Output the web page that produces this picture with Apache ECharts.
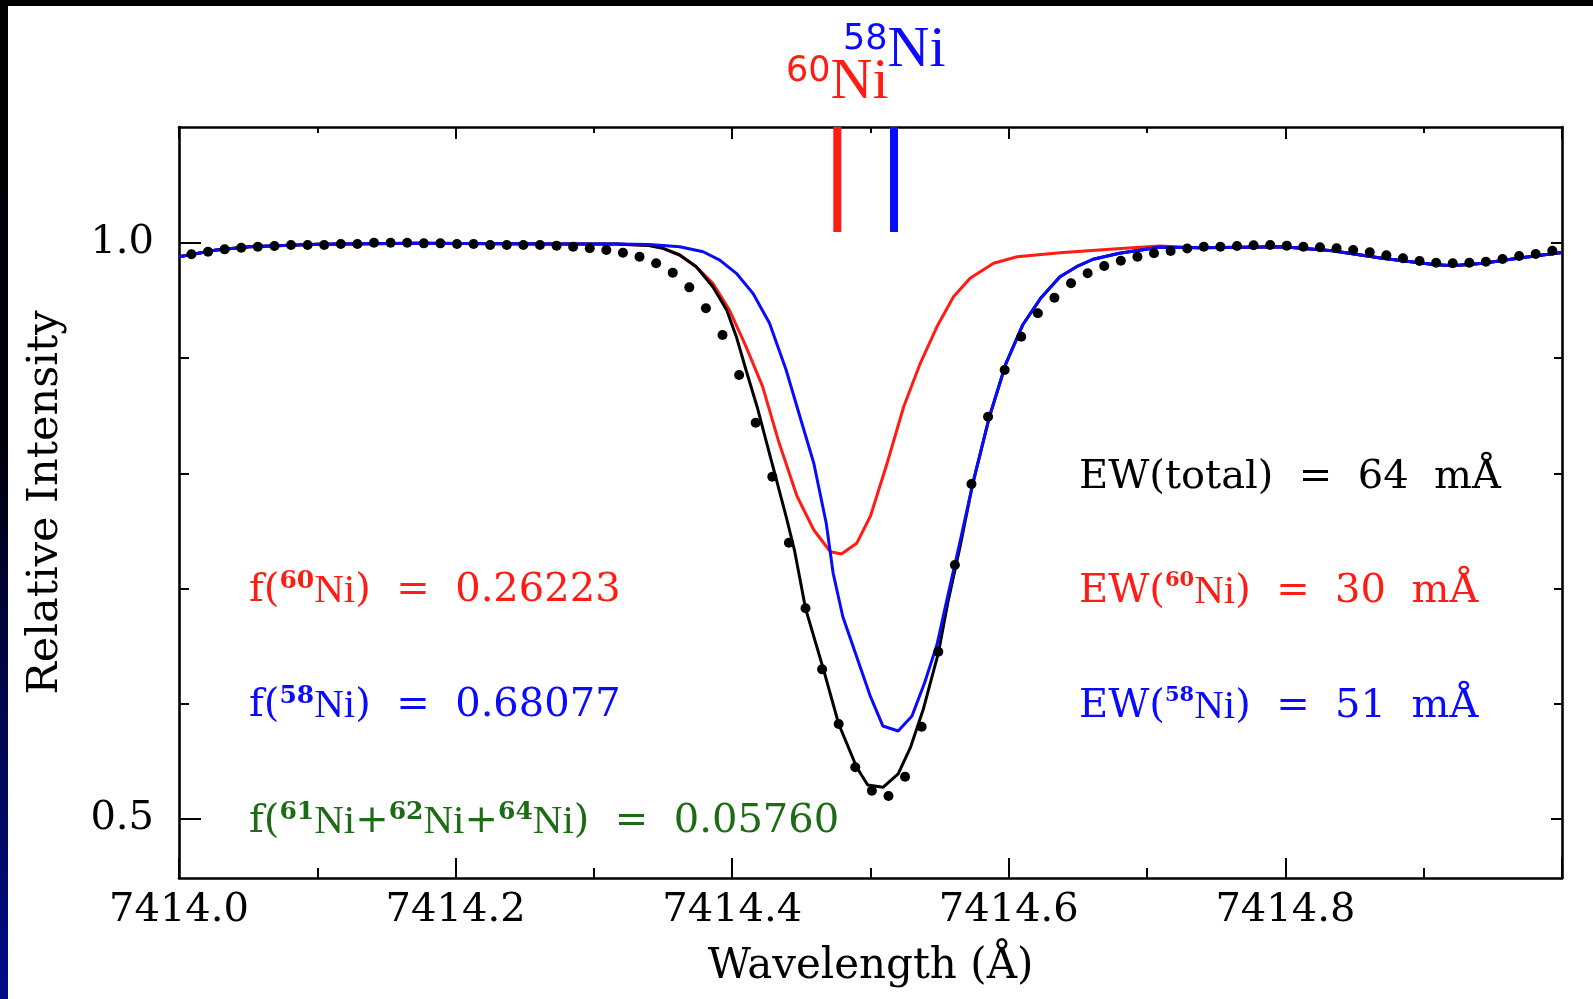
<!DOCTYPE html>
<html>
<head>
<meta charset="utf-8">
<script src="https://cdn.jsdelivr.net/npm/echarts@6/dist/echarts.min.js"></script>
<style>
  html, body { margin: 0; padding: 0; background: #ffffff; }
  #chart { width: 1593px; height: 999px; }
</style>
</head>
<body>
<div id="chart"></div>
<script>
// Observed spectrum: wavelength (Å) and relative intensity
const obsWave = [
  7414.009, 7414.021, 7414.033, 7414.045, 7414.057, 7414.069, 7414.081, 7414.093, 7414.105, 7414.117,
  7414.129, 7414.141, 7414.153, 7414.165, 7414.177, 7414.189, 7414.201, 7414.213, 7414.225, 7414.237,
  7414.249, 7414.261, 7414.273, 7414.285, 7414.297, 7414.309, 7414.321, 7414.333, 7414.345, 7414.357,
  7414.369, 7414.381, 7414.393, 7414.405, 7414.417, 7414.429, 7414.441, 7414.453, 7414.465, 7414.477,
  7414.489, 7414.501, 7414.513, 7414.525, 7414.537, 7414.549, 7414.561, 7414.573, 7414.585, 7414.597,
  7414.609, 7414.621, 7414.633, 7414.645, 7414.657, 7414.669, 7414.681, 7414.693, 7414.705, 7414.717,
  7414.729, 7414.741, 7414.753, 7414.765, 7414.777, 7414.789, 7414.801, 7414.813, 7414.825, 7414.837,
  7414.849, 7414.861, 7414.873, 7414.885, 7414.897, 7414.909, 7414.921, 7414.933, 7414.945, 7414.957,
  7414.969, 7414.981, 7414.993
];
const obsFlux = [
  0.9902, 0.9924, 0.9945, 0.9959, 0.9968, 0.9974, 0.9983, 0.9983, 0.9983, 0.9991,
  0.9991, 1.0003, 1.0003, 1.0003, 0.9997, 0.9997, 0.9991, 0.9991, 0.9983, 0.9983,
  0.9983, 0.9983, 0.9977, 0.9968, 0.9954, 0.9939, 0.9916, 0.9881, 0.9824, 0.9742,
  0.9615, 0.9433, 0.9201, 0.8854, 0.8440, 0.7971, 0.7398, 0.6829, 0.6299, 0.5825,
  0.5449, 0.5246, 0.5200, 0.5367, 0.5801, 0.6452, 0.7205, 0.7908, 0.8492, 0.8898,
  0.9187, 0.9390, 0.9525, 0.9650, 0.9737, 0.9800, 0.9846, 0.9881, 0.9911, 0.9931,
  0.9952, 0.9968, 0.9968, 0.9974, 0.9980, 0.9983, 0.9977, 0.9968, 0.9963, 0.9954,
  0.9939, 0.9919, 0.9893, 0.9867, 0.9844, 0.9829, 0.9824, 0.9829, 0.9838, 0.9861,
  0.9887, 0.9905, 0.9933
];

// Synthetic spectra [wavelength, intensity]
const synthTotal = [
  [7414.000, 0.9881], [7414.027, 0.9939], [7414.051, 0.9968], [7414.100, 0.9989], [7414.172, 0.9997],
  [7414.268, 0.9991], [7414.316, 0.9991], [7414.340, 0.9978], [7414.350, 0.9954], [7414.362, 0.9896],
  [7414.374, 0.9794], [7414.386, 0.9621], [7414.396, 0.9418], [7414.403, 0.9187], [7414.410, 0.8898],
  [7414.418, 0.8579], [7414.425, 0.8261], [7414.432, 0.7943], [7414.439, 0.7624], [7414.445, 0.7335],
  [7414.453, 0.6829], [7414.466, 0.6299], [7414.477, 0.5825], [7414.490, 0.5449], [7414.498, 0.5295],
  [7414.509, 0.5275], [7414.520, 0.5391], [7414.529, 0.5625], [7414.538, 0.5946], [7414.549, 0.6438],
  [7414.556, 0.6884], [7414.565, 0.7378], [7414.574, 0.7914], [7414.586, 0.8492], [7414.598, 0.8956],
  [7414.610, 0.9288], [7414.623, 0.9520], [7414.637, 0.9707], [7414.649, 0.9794], [7414.661, 0.9859],
  [7414.680, 0.9911], [7414.709, 0.9963], [7414.738, 0.9958], [7414.798, 0.9968], [7414.834, 0.9933],
  [7414.870, 0.9867], [7414.907, 0.9813], [7414.921, 0.9803], [7414.943, 0.9824], [7414.968, 0.9867],
  [7415.000, 0.9918]
];
const synth60 = [
  [7414.000, 0.9881], [7414.027, 0.9939], [7414.051, 0.9968], [7414.100, 0.9989], [7414.172, 0.9997],
  [7414.268, 0.9991], [7414.316, 0.9991], [7414.340, 0.9978], [7414.350, 0.9954], [7414.362, 0.9896],
  [7414.374, 0.9794], [7414.386, 0.9650], [7414.398, 0.9418], [7414.410, 0.9100], [7414.422, 0.8753],
  [7414.434, 0.8261], [7414.447, 0.7798], [7414.459, 0.7509], [7414.471, 0.7320], [7414.479, 0.7300],
  [7414.490, 0.7393], [7414.500, 0.7630], [7414.512, 0.8088], [7414.524, 0.8579], [7414.536, 0.8956],
  [7414.548, 0.9273], [7414.560, 0.9534], [7414.572, 0.9694], [7414.589, 0.9824], [7414.606, 0.9881],
  [7414.637, 0.9916], [7414.673, 0.9945], [7414.709, 0.9974], [7414.738, 0.9958], [7414.798, 0.9968],
  [7414.834, 0.9933], [7414.870, 0.9867], [7414.907, 0.9813], [7414.921, 0.9803], [7414.943, 0.9824],
  [7414.968, 0.9867], [7415.000, 0.9918]
];
const synth58 = [
  [7414.000, 0.9881], [7414.027, 0.9939], [7414.051, 0.9968], [7414.100, 0.9989], [7414.172, 0.9997],
  [7414.268, 0.9991], [7414.316, 0.9991], [7414.340, 0.9986], [7414.362, 0.9968], [7414.379, 0.9924],
  [7414.391, 0.9852], [7414.403, 0.9737], [7414.415, 0.9563], [7414.427, 0.9303], [7414.439, 0.8898],
  [7414.449, 0.8492], [7414.459, 0.8088], [7414.468, 0.7567], [7414.473, 0.7133], [7414.480, 0.6756],
  [7414.490, 0.6409], [7414.500, 0.6062], [7414.509, 0.5807], [7414.520, 0.5764], [7414.530, 0.5894],
  [7414.539, 0.6178], [7414.548, 0.6510], [7414.556, 0.6944], [7414.565, 0.7422], [7414.574, 0.7914],
  [7414.586, 0.8492], [7414.598, 0.8956], [7414.610, 0.9288], [7414.623, 0.9520], [7414.637, 0.9707],
  [7414.649, 0.9794], [7414.661, 0.9859], [7414.680, 0.9911], [7414.709, 0.9963], [7414.738, 0.9958],
  [7414.798, 0.9968], [7414.834, 0.9933], [7414.870, 0.9867], [7414.907, 0.9813], [7414.921, 0.9803],
  [7414.943, 0.9824], [7414.968, 0.9867], [7415.000, 0.9918]
];

// Isotope line positions (Å) and the intensity where their markers start
const isotopeMass = ['60', '58'];
const isotopeWave = [7414.476, 7414.517];
const markerBase = 1.0095;

// Isotopic fractions and equivalent widths (mÅ)
const fractionIsotopes = [['60'], ['58'], ['61', '62', '64']];
const fractionValues = [0.26223, 0.68077, 0.05760];
const ewLabels = ['total', '60', '58'];
const ewValues = [64, 30, 51];

// Axis ranges and tick positions
const X_MIN = 7414.0, X_MAX = 7415.0, X_STEP = 0.2;
const Y_MIN = 0.4488, Y_MAX = 1.1007;
const yMajor = [0.5, 1.0];
const yMinor = [0.6, 0.7, 0.8, 0.9];

const RED = '#ff1c12', BLUE = '#0a0aff', GREEN = '#1d6b14', BLACK = '#000000';
const TYPE_FONT = 'DejaVu Serif';
const ROMAN_FONT = 'Liberation Serif';

const chart = echarts.init(document.getElementById('chart'), null, { renderer: 'canvas' });

const frame = { color: BLACK, width: 2.6 };
const tickStyle = { color: BLACK, width: 2 };

function xAxisOf(position, majorLen, minorLen, withLabels) {
  return {
    type: 'value', position: position, min: X_MIN, max: X_MAX, interval: X_STEP,
    axisLine: { show: true, onZero: false, lineStyle: frame },
    axisTick: { show: true, inside: true, length: majorLen, lineStyle: tickStyle },
    minorTick: { show: true, splitNumber: 2, length: minorLen, lineStyle: tickStyle },
    splitLine: { show: false }, minorSplitLine: { show: false },
    axisLabel: withLabels ? {
      show: true, margin: 13, showMaxLabel: false, color: BLACK,
      fontFamily: TYPE_FONT, fontSize: 40,
      formatter: v => v.toFixed(1)
    } : { show: false }
  };
}

function yAxisOf(position, values, len, showLine, withLabels) {
  return {
    type: 'value', position: position, min: Y_MIN, max: Y_MAX,
    axisLine: { show: showLine, onZero: false, lineStyle: frame },
    axisTick: { show: true, inside: true, length: len, customValues: values, lineStyle: tickStyle },
    splitLine: { show: false },
    axisLabel: withLabels ? {
      show: true, margin: 25, color: BLACK, customValues: values,
      fontFamily: TYPE_FONT, fontSize: 40,
      formatter: v => v.toFixed(1)
    } : { show: false }
  };
}

const xBottom = xAxisOf('bottom', 20, 10, true);
xBottom.name = 'Wavelength (Å)';
xBottom.nameLocation = 'middle';
xBottom.nameGap = 68;
xBottom.nameTextStyle = { fontFamily: TYPE_FONT, fontSize: 42, color: BLACK };

const yLeft = yAxisOf('left', yMajor, 22, true, true);
yLeft.name = 'Relative Intensity';
yLeft.nameLocation = 'middle';
yLeft.nameGap = 112;
yLeft.nameTextStyle = { fontFamily: TYPE_FONT, fontSize: 43, color: BLACK };

// Rich-text styles: typewriter body, small raised mass numbers, roman element symbol
function richSet(color, supSize) {
  return {
    t: { fontFamily: TYPE_FONT, fontSize: 40, lineHeight: 44, fill: color },
    s: { fontFamily: TYPE_FONT, fontWeight: 'bold', fontSize: supSize, lineHeight: supSize + 4, verticalAlign: 'top', fill: color },
    n: { fontFamily: ROMAN_FONT, fontSize: 41, lineHeight: 44, fill: color }
  };
}

function isoText(masses) {
  return masses.map(m => '{s|' + m + '}{n|Ni}').join('{t|+}');
}

const fracColors = [RED, BLUE, GREEN];
const fracY = [591, 706, 822];
const ewColors = [BLACK, RED, BLUE];
const ewY = [478, 592, 707];

const graphics = [];

// page trim: dark top strip and left strip fading to deep blue
graphics.push({ type: 'rect', shape: { x: 0, y: 0, width: 1593, height: 6 }, style: { fill: '#000000' }, z: 100 });
graphics.push({
  type: 'rect', shape: { x: 0, y: 0, width: 8, height: 999 }, z: 100,
  style: {
    fill: new echarts.graphic.LinearGradient(0, 0, 0, 1, [
      { offset: 0, color: '#000000' },
      { offset: 0.45, color: '#00000c' },
      { offset: 0.65, color: '#000540' },
      { offset: 1, color: '#000c88' }
    ])
  }
});

fractionValues.forEach((v, i) => {
  graphics.push({
    type: 'text', x: 249, y: fracY[i], z: 50,
    style: {
      text: '{t|f(}' + isoText(fractionIsotopes[i]) + '{t|)  =  ' + v.toFixed(5) + '}',
      rich: richSet(fracColors[i], 25), align: 'left', verticalAlign: 'middle'
    }
  });
});

ewValues.forEach((v, i) => {
  const inner = ewLabels[i] === 'total' ? '{t|total}' : isoText([ewLabels[i]]);
  graphics.push({
    type: 'text', x: 1079, y: ewY[i], z: 50,
    style: {
      text: '{t|EW(}' + inner + '{t|)  =  ' + v + '  mÅ}',
      rich: richSet(ewColors[i], 21), align: 'left', verticalAlign: 'middle'
    }
  });
});

// isotope labels above the markers
const topLabelPos = [[786, 54], [843, 22]];
const topColors = [RED, BLUE];
isotopeMass.forEach((m, i) => {
  graphics.push({
    type: 'text', x: topLabelPos[i][0], y: topLabelPos[i][1], z: 50,
    style: {
      text: '{s|' + m + '}{n|Ni}',
      align: 'left', verticalAlign: 'top',
      rich: {
        s: { fontFamily: 'DejaVu Sans', fontSize: 35, lineHeight: 35, verticalAlign: 'top', fill: topColors[i] },
        n: { fontFamily: ROMAN_FONT, fontSize: 58, lineHeight: 58, fill: topColors[i] }
      }
    }
  });
});

const markerSeries = isotopeWave.map((w, i) => ({
  type: 'line', name: isotopeMass[i] + 'Ni marker',
  xAxisIndex: 0, yAxisIndex: 0,
  data: [[w, markerBase], [w, Y_MAX]],
  showSymbol: false, symbol: 'none',
  lineStyle: { color: topColors[i], width: 8, cap: 'butt' },
  z: 6, silent: true
}));

const option = {
  animation: false,
  backgroundColor: '#ffffff',
  grid: { left: 179, right: 31, top: 127, bottom: 121, containLabel: false },
  xAxis: [xBottom, xAxisOf('top', 12, 6, false)],
  yAxis: [
    yLeft,
    yAxisOf('left', yMinor, 10, false, false),
    yAxisOf('right', yMajor, 11, true, false),
    yAxisOf('right', yMinor, 8, false, false)
  ],
  series: [
    {
      type: 'line', name: '60Ni', data: synth60, showSymbol: false, symbol: 'none',
      lineStyle: { color: RED, width: 3 }, z: 2
    },
    {
      type: 'line', name: 'total', data: synthTotal, showSymbol: false, symbol: 'none',
      lineStyle: { color: BLACK, width: 3 }, z: 3
    },
    {
      type: 'line', name: '58Ni', data: synth58, showSymbol: false, symbol: 'none',
      lineStyle: { color: BLUE, width: 3 }, z: 4
    },
    {
      type: 'scatter', name: 'observed',
      data: obsWave.map((w, i) => [w, obsFlux[i]]),
      symbol: 'circle', symbolSize: 10,
      itemStyle: { color: BLACK, opacity: 1 }, z: 5
    }
  ].concat(markerSeries),
  graphic: graphics
};

chart.setOption(option);
</script>
</body>
</html>
